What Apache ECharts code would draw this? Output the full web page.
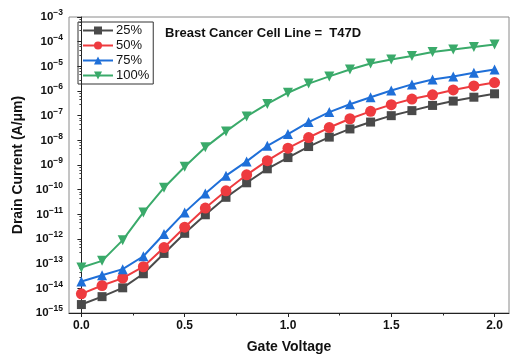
<!DOCTYPE html>
<html><head><meta charset="utf-8">
<script src="https://cdn.jsdelivr.net/npm/echarts@6/dist/echarts.min.js"></script>
<style>html,body{margin:0;padding:0;background:#fff}#c{width:512px;height:361px}</style>
</head><body><div id="c"></div>
<script>
const gateVoltage = [0.0,0.1,0.2,0.3,0.4,0.5,0.6,0.7,0.8,0.9,1.0,1.1,1.2,1.3,1.4,1.5,1.6,1.7,1.8,1.9,2.0];
const seriesNames = ['25%','50%','75%','100%'];
const current25 = [2.2e-15,4.6e-15,1.05e-14,3.9e-14,2.6e-13,1.7e-12,9.6e-12,4.9e-11,1.9e-10,7e-10,2e-9,5.6e-9,1.35e-8,2.9e-8,5.5e-8,1e-7,1.6e-7,2.6e-7,3.9e-7,5.6e-7,7.7e-7];
const current50 = [6e-15,1.3e-14,2.6e-14,7.5e-14,4.5e-13,3e-12,1.8e-11,9e-11,4e-10,1.5e-9,4.8e-9,1.3e-8,3.3e-8,7.5e-8,1.5e-7,2.8e-7,4.7e-7,7e-7,1.1e-6,1.6e-6,2.2e-6];
const current75 = [1.9e-14,3.4e-14,6e-14,2e-13,1.6e-12,1.2e-11,7e-11,3.7e-10,1.4e-9,6e-9,1.8e-8,5.5e-8,1.4e-7,2.9e-7,5.6e-7,1.05e-6,1.85e-6,2.9e-6,3.9e-6,5.5e-6,7.5e-6];
const current100 = [7e-14,1.3e-13,9e-13,1.2e-11,1.2e-10,8.5e-10,5.2e-9,2.3e-8,9.3e-8,3e-7,8.5e-7,2e-6,3.9e-6,7.4e-6,1.3e-5,1.9e-5,2.6e-5,3.8e-5,4.8e-5,6.1e-5,7.7e-5];
const xMajorTicks = [0,0.5,1.0,1.5,2.0];
const xMinorTicks = [0.25,0.75,1.25,1.75];

const colors = ['#4a4a4a','#ee3b3f','#1f6fd8','#3aaa6a'];
const symbols = ['rect','circle','triangle','triangle'];
const sizes = [9,11,10,10];
const rotates = [0,0,0,180];
const allData = [current25,current50,current75,current100];

const chart = echarts.init(document.getElementById('c'), null, {renderer:'canvas'});
const series = allData.map((arr,i)=>({
  name: seriesNames[i], type:'line', xAxisIndex:0,
  data: gateVoltage.map((x,j)=>[x,arr[j]]),
  symbol: symbols[i], symbolSize: sizes[i], symbolRotate: rotates[i],
  showSymbol:true,
  lineStyle:{color:colors[i], width:2},
  itemStyle:{color:colors[i]},
  z: 2+i
}));
series.push({type:'line', xAxisIndex:1, data:[], silent:true});

chart.setOption({
  animation:false,
  textStyle:{fontFamily:'Liberation Sans, Arial, sans-serif'},
  grid:{left:69, right:3, top:17, bottom:48, show:true, borderColor:'#8a8a8a', borderWidth:1},
  title:{text:'Breast Cancer Cell Line =  T47D', left:160, top:22,
    textStyle:{fontSize:13, fontWeight:'bold', color:'#111', fontFamily:'Liberation Sans, Arial, sans-serif'}},
  legend:{orient:'vertical', left:78, top:22, data:seriesNames,
    itemWidth:30, itemHeight:10, itemGap:2, padding:[2,4,2,4],
    borderColor:'#333', borderWidth:1,
    textStyle:{fontSize:13, color:'#111', padding:[0,0,0,-2]}},
  xAxis:[{
    type:'value', min:-0.06, max:2.07,
    name:'Gate Voltage', nameLocation:'middle', nameGap:27,
    nameTextStyle:{fontSize:14, fontWeight:'bold', color:'#111'},
    axisLine:{show:true, lineStyle:{color:'#222', width:1}},
    axisTick:{show:true, length:4, customValues:xMajorTicks, lineStyle:{color:'#222'}},
    axisLabel:{customValues:xMajorTicks, fontSize:12, fontWeight:'bold', color:'#111', margin:7,
      formatter:v=>v.toFixed(1)},
    splitLine:{show:false}
  },{
    type:'value', min:-0.06, max:2.07, position:'bottom',
    axisLine:{show:false},
    axisTick:{show:true, length:2.5, customValues:xMinorTicks, lineStyle:{color:'#222'}},
    axisLabel:{show:false}, splitLine:{show:false}
  }],
  yAxis:{
    type:'log', logBase:10, min:1e-15, max:1e-3, interval:1,
    name:'Drain Current (A/\u03bcm)', nameLocation:'middle', nameGap:37,
    nameTextStyle:{fontSize:14, fontWeight:'bold', color:'#111'},
    axisLine:{show:true, lineStyle:{color:'#222', width:1}},
    axisTick:{show:true, length:4, lineStyle:{color:'#222'}},
    minorTick:{show:true, splitNumber:5, length:2, lineStyle:{color:'#444'}},
    splitLine:{show:false},
    axisLabel:{margin:6, color:'#111',
      formatter:v=>{const e=Math.round(Math.log10(v)); return '{b|10}{s|\u2212'+Math.abs(e)+'}';},
      rich:{b:{fontSize:11.5, fontWeight:'bold', color:'#111'}, s:{fontSize:8.5, fontWeight:'bold', color:'#111', padding:[0,0,8,0]}}}
  },
  series: series
});
</script></body></html>
